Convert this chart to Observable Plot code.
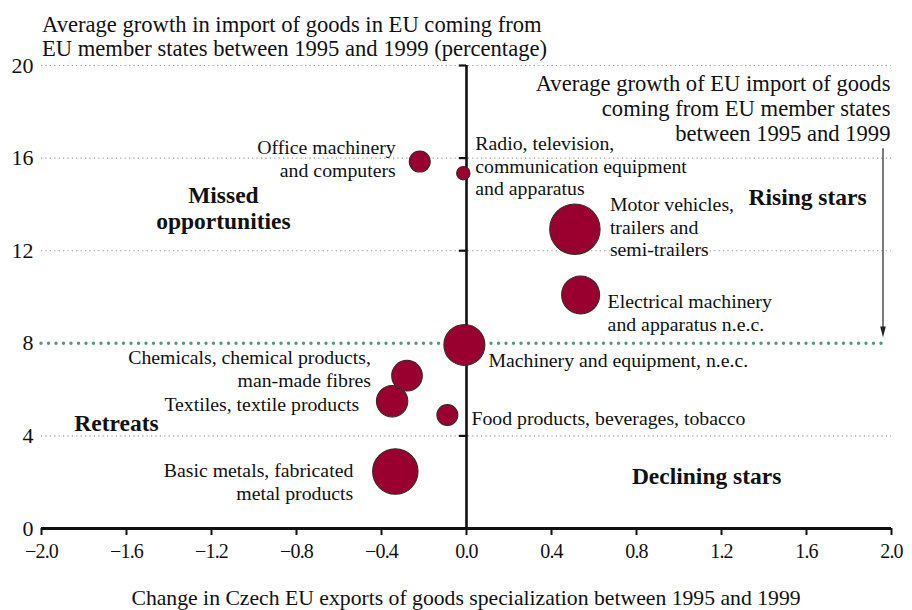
<!DOCTYPE html>
<html>
<head>
<meta charset="utf-8">
<script src="https://cdn.jsdelivr.net/npm/d3@7"></script>
<script src="https://cdn.jsdelivr.net/npm/@observablehq/plot@0.6"></script>
<style>
  body { margin: 0; background: white; }
  #wrap { position: relative; width: 912px; height: 610px; font-family: "Liberation Serif", serif; color: #111; }
  #title { position: absolute; left: 42px; top: 13px; font-size: 22.6px; line-height: 24px; white-space: nowrap; }
  #xlabel { position: absolute; left: 0; width: 932px; text-align: center; top: 586px; font-size: 21.7px; line-height: 24px; white-space: nowrap; }
  g[aria-label="x-axis tick label"] text { letter-spacing: -0.8px; }
</style>
</head>
<body>
<div id="wrap">
  <div id="chart"></div>
  <div id="title">Average growth in import of goods in EU coming from<br>EU member states between 1995 and 1999 (percentage)</div>
  <div id="xlabel">Change in Czech EU exports of goods specialization between 1995 and 1999</div>
</div>
<script>
// ---- data ----
const sectors = [
  "Office machinery\nand computers",
  "Radio, television,\ncommunication equipment\nand apparatus",
  "Motor vehicles,\ntrailers and\nsemi-trailers",
  "Electrical machinery\nand apparatus n.e.c.",
  "Machinery and equipment, n.e.c.",
  "Chemicals, chemical products,\nman-made fibres",
  "Textiles, textile products",
  "Food products, beverages, tobacco",
  "Basic metals, fabricated\nmetal products"
];
const specChange   = [-0.22, -0.015, 0.51, 0.537, -0.01, -0.28, -0.35, -0.09, -0.335];
const importGrowth = [15.85, 15.35, 12.93, 10.09, 7.93, 6.6, 5.5, 4.9, 2.46];
const bubbleSize   = [11, 4.5, 63.5, 36, 42, 23.4, 24.6, 11, 51.5];
const euAverageGrowth = 8;
const xTicks = [-2.0, -1.6, -1.2, -0.8, -0.4, 0.0, 0.4, 0.8, 1.2, 1.6, 2.0];
const yTicks = [0, 4, 8, 12, 16, 20];
const quadrants = ["Missed\nopportunities", "Rising stars", "Retreats", "Declining stars"];
const avgNote = "Average growth of EU import of goods\ncoming from EU member states\nbetween 1995 and 1999";

// ---- layout (positions / styles, not data) ----
const labelLayout = [
  {anchor: "end",   dx: -24, dy: -3},
  {anchor: "start", dx: 12,  dy: -8},
  {anchor: "start", dx: 35,  dy: -3},
  {anchor: "start", dx: 27,  dy: 17},
  {anchor: "start", dx: 24,  dy: 15},
  {anchor: "end",   dx: -36, dy: -8},
  {anchor: "end",   dx: -33, dy: 2},
  {anchor: "start", dx: 24,  dy: 3},
  {anchor: "end",   dx: -42, dy: 10}
];
const quadrantPos = [
  {x: -1.144, y: 13.86},
  {x: 1.605, y: 14.35},
  {x: -1.647, y: 4.57},
  {x: 1.13, y: 2.28}
];
const notePos = {x: 1.995, y: 18.15};
const arrowPos = {x: 1.96, y1: 16.4, y2: 8.25};

const data = sectors.map((s, i) => ({sector: s, x: specChange[i], y: importGrowth[i], size: bubbleSize[i]}));

const arrowHead = {
  draw(ctx, size) {
    const w = 2.8, h = 11;
    ctx.moveTo(0, 0); ctx.lineTo(-w, -h); ctx.lineTo(w, -h); ctx.closePath();
  }
};

const font = "Liberation Serif";
const labelMarks = data.map((d, i) => Plot.text([d], {
  x: "x", y: "y", text: "sector",
  textAnchor: labelLayout[i].anchor, dx: labelLayout[i].dx, dy: labelLayout[i].dy,
  lineAnchor: "middle", lineHeight: 1.16, fontSize: 19.8, fill: "#111"
}));

const chart = Plot.plot({
  width: 912, height: 575,
  marginTop: 65, marginBottom: 47, marginLeft: 41, marginRight: 21,
  style: {fontFamily: font, background: "white", overflow: "visible"},
  x: {domain: [-2, 2]},
  y: {domain: [0, 20]},
  r: {domain: [0, 63.5], range: [0, 25.2]},
  marks: [
    Plot.ruleY(yTicks.filter(v => v !== 0 && v !== euAverageGrowth), {stroke: "#999", strokeDasharray: "1.2,3.2", strokeWidth: 1.1}),
    Plot.axisY(yTicks, {tickSize: 0, tickPadding: 8, fontSize: 22, label: null, fill: "#111"}),
    Plot.axisX(xTicks, {tickSize: 7, tickPadding: 8, strokeWidth: 2, fontSize: 20, label: null, tickFormat: d3.format(".1f"), fill: "#111"}),
    Plot.ruleY([euAverageGrowth], {x1: -2, x2: 1.965, stroke: "#4f9a7e", strokeWidth: 3.4, strokeDasharray: "0,7.5", strokeLinecap: "round"}),
    Plot.ruleX([0], {y1: 0, y2: 20, stroke: "#111", strokeWidth: 2.6}),
    Plot.ruleY(yTicks.filter(v => v > 0), {x1: -0.034, x2: 0, stroke: "#111", strokeWidth: 2.2}),
    Plot.ruleY([0], {stroke: "#111", strokeWidth: 3.2}),
    Plot.ruleX([arrowPos.x], {y1: arrowPos.y1, y2: arrowPos.y2 + 0.3, stroke: "#222", strokeWidth: 1.2}),
    Plot.dot([arrowPos], {x: "x", y: "y2", symbol: arrowHead, r: 4, fill: "#222", stroke: "none"}),
    Plot.dot(data, {x: "x", y: "y", r: "size", fill: "#990030", stroke: "#3a2a2a", strokeWidth: 1.1, fillOpacity: 1}),
    ...labelMarks,
    Plot.text(quadrants, {x: (d, i) => quadrantPos[i].x, y: (d, i) => quadrantPos[i].y, text: d => d, fontWeight: "bold", fontSize: 23.5, lineAnchor: "middle", lineHeight: 1.13, textAnchor: "middle", fill: "#111"}),
    Plot.text([avgNote], {x: () => notePos.x, y: () => notePos.y, text: d => d, textAnchor: "end", lineAnchor: "middle", lineHeight: 1.1, fontSize: 22.6, fill: "#111"})
  ]
});
document.getElementById("chart").appendChild(chart);
</script>
</body>
</html>
